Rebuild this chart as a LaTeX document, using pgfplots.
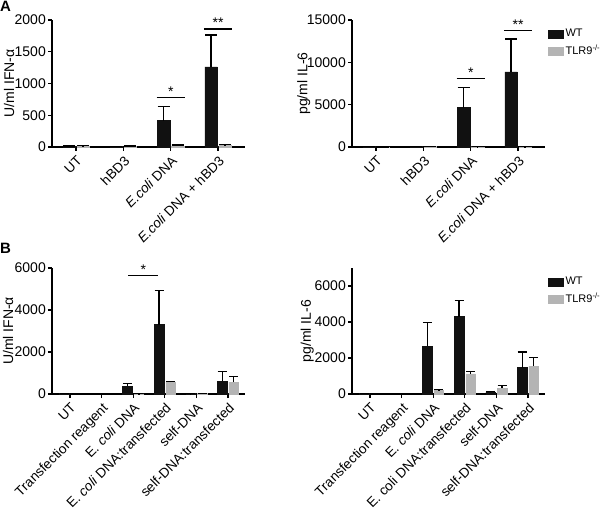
\documentclass[border=0pt]{standalone}
\usepackage{fontspec}
\setmainfont{Liberation Sans}
\usepackage{pgfplots}
\pgfplotsset{compat=1.18}
\definecolor{wt}{HTML}{111111}
\definecolor{tlr}{HTML}{B4B4B4}
\tikzset{sigstar/.style={above, inner sep=1pt, font=\fontsize{14}{16}\selectfont}}
\pgfplotsset{
  myax/.style={
    scale only axis, width=193pt,
    axis lines=left, axis line style={line width=1.3pt,-},
    tick style={line width=1.3pt,black}, major tick length=4pt, tick align=outside,
    ymin=0, clip=false, scaled y ticks=false,
    xticklabel style={rotate=45, anchor=north east, inner sep=1pt, font=\fontsize{13.6}{15}\selectfont},
    xticklabel shift=2.5pt,
    yticklabel style={font=\fontsize{14}{16}\selectfont, inner sep=2pt},
    ylabel style={font=\fontsize{14}{16}\selectfont, anchor=center},
    /pgf/number format/assume math mode=true, /pgf/number format/1000 sep={},
  },
  legsq/.style={legend image code/.code={\fill[##1] (0pt,-4pt) rectangle (15pt,4pt);}},
  errA/.style={error bars/.cd, y dir=plus, y explicit,
    error bar style={line width=1.3pt,black},
    error mark options={black, rotate=90, mark size=6pt, line width=1.3pt}},
  errB/.style={error bars/.cd, y dir=plus, y explicit,
    error bar style={line width=1.3pt,black},
    error mark options={black, rotate=90, mark size=4.5pt, line width=1.3pt}},
  leg/.style={legend style={at={(1.0,0.96)}, anchor=north west, draw=none, fill=none,
    font=\fontsize{11}{13}\selectfont, row sep=3pt, legend cell align=left}},
}
\begin{document}
\begin{tikzpicture}
\path[use as bounding box] (0pt,0pt) rectangle (600pt,-510pt);
\node[anchor=north west, inner sep=0pt, font=\bfseries\fontsize{15}{17}\selectfont] at (0pt,-1pt) {A};
\node[anchor=north west, inner sep=0pt, font=\bfseries\fontsize{15}{17}\selectfont] at (0pt,-243pt) {B};

% A left
\begin{axis}[myax, at={(52pt,-147pt)}, anchor=south west, height=127pt,
  ymax=2000, ytick={0,500,1000,1500,2000},
  xmin=-0.51, xmax=3.57, xtick={0,1,2,3},
  xticklabels={UT, hBD3, \textit{E.coli} DNA, \textit{E.coli} DNA + hBD3},
  ylabel={U/ml IFN-α}, ylabel style={at={(axis description cs:-0.222,0.5)}},
  ybar=1.5pt, bar width=12.5pt]
\addplot[fill=wt, draw=wt, errA] coordinates {(0,10) +- (0,5) (1,5) +- (0,3) (2,415) +- (0,227) (3,1263) +- (0,500)};
\addplot[fill=tlr, draw=tlr, errA] coordinates {(0,15) +- (0,5) (1,10) +- (0,5) (2,20) +- (0,10) (3,25) +- (0,12)};
\draw[line width=1.3pt] (axis cs:1.7,774) -- (axis cs:2.3,774);
\node[sigstar] at (axis cs:2,774) {*};
\draw[line width=1.3pt] (axis cs:2.7,1858) -- (axis cs:3.3,1858);
\node[sigstar] at (axis cs:3,1858) {**};
\end{axis}

% A right
\begin{axis}[myax, leg, at={(352pt,-147pt)}, anchor=south west, height=127pt,
  ymax=15000, ytick={0,5000,10000,15000},
  xmin=-0.51, xmax=3.57, xtick={0,1,2,3},
  xticklabels={UT, hBD3, \textit{E.coli} DNA, \textit{E.coli} DNA + hBD3},
  ylabel={pg/ml IL-6}, ylabel style={at={(axis description cs:-0.25,0.5)}},
  ybar=1.5pt, bar width=12.5pt]
\addplot[fill=wt, draw=wt, legsq, errA] coordinates {(0,50) +- (0,20) (1,50) +- (0,20) (2,4658) +- (0,2368) (3,8882) +- (0,3868)};
\addplot[fill=tlr, draw=tlr, legsq, errA] coordinates {(0,10) +- (0,5) (1,50) +- (0,20) (2,30) +- (0,15) (3,20) +- (0,10)};
\legend{WT, TLR9\textsuperscript{-/-}}
\draw[line width=1.3pt] (axis cs:1.7,8092) -- (axis cs:2.3,8092);
\node[sigstar] at (axis cs:2,8092) {*};
\draw[line width=1.3pt] (axis cs:2.7,13737) -- (axis cs:3.3,13737);
\node[sigstar] at (axis cs:3,13737) {**};
\end{axis}

% B left
\begin{axis}[myax, at={(52pt,-394pt)}, anchor=south west, height=126pt,
  ymax=6000, ytick={0,2000,4000,6000},
  xmin=-0.57, xmax=5.54, xtick={0,1,2,3,4,5},
  xticklabels={UT, Transfection reagent, E. \textit{coli} DNA, E. \textit{coli} DNA:transfected, self-DNA, self-DNA:transfected},
  ylabel={U/ml IFN-α}, ylabel style={at={(axis description cs:-0.228,0.5)}},
  ybar=2pt, bar width=9.5pt]
\addplot[fill=wt, draw=wt, errB] coordinates {(0,20) +- (0,5) (2,380) +- (0,110) (3,3302) +- (0,1635) (4,15) +- (0,5) (5,603) +- (0,477)};
\addplot[fill=tlr, draw=tlr, errB] coordinates {(2,10) +- (0,5) (3,571) +- (0,40) (4,20) +- (0,5) (5,571) +- (0,270)};
\draw[line width=1.3pt] (axis cs:1.84,5635) -- (axis cs:2.79,5635);
\node[sigstar] at (axis cs:2.32,5635) {*};
\end{axis}

% B right
\begin{axis}[myax, leg, at={(352pt,-394pt)}, anchor=south west, height=126pt,
  ymax=7000, ytick={0,2000,4000,6000},
  xmin=-0.57, xmax=5.54, xtick={0,1,2,3,4,5},
  xticklabels={UT, Transfection reagent, E. \textit{coli} DNA, E. coli DNA:transfected, self-DNA, self-DNA:transfected},
  ylabel={pg/ml IL-6}, ylabel style={at={(axis description cs:-0.232,0.5)}},
  ybar=2pt, bar width=9.5pt]
\addplot[fill=wt, draw=wt, legsq, errB] coordinates {(0,30) +- (0,5) (2,2652) +- (0,1336) (3,4299) +- (0,878) (4,110) +- (0,36) (5,1463) +- (0,878)};
\addplot[fill=tlr, draw=tlr, legsq, errB] coordinates {(2,201) +- (0,37) (3,1116) +- (0,128) (4,329) +- (0,128) (5,1555) +- (0,475)};
\legend{WT, TLR9\textsuperscript{-/-}}
\end{axis}
\end{tikzpicture}
\end{document}
